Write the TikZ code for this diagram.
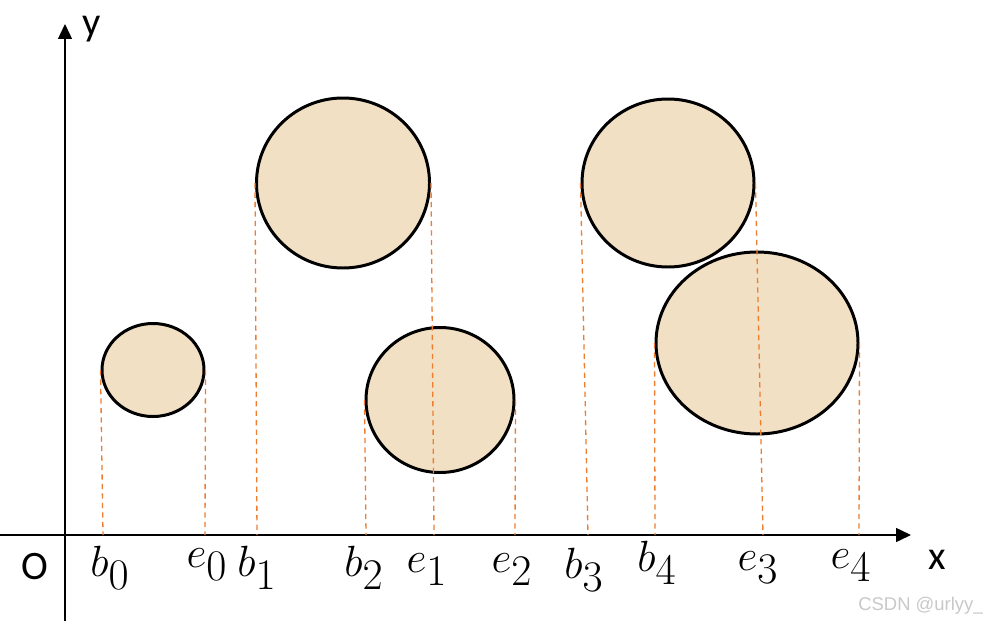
\documentclass[tikz,border=0pt]{standalone}
\usepackage{fontspec}
\setsansfont{Carlito}
\newfontfamily\markfont{Liberation Sans}
\usepackage{tikz}
\usetikzlibrary{arrows.meta,shapes.geometric}
\definecolor{sand}{RGB}{242,224,196}
\definecolor{guideorange}{RGB}{237,125,49}
\definecolor{markgray}{RGB}{200,200,200}
\tikzset{
  axis/.style={line width=0.8pt,-{Triangle[length=0.3cm,width=0.28cm]}},
  blob/.style={ellipse,draw=black,fill=sand,line width=1.7pt,inner sep=0pt},
  guide/.style={guideorange,line width=0.75pt,dash pattern=on 3pt off 2.4pt},
  seg/.style={font=\fontsize{34}{38}\selectfont},
  axlab/.style={font=\sffamily\fontsize{23}{25}\selectfont}
}

\begin{document}
\begin{tikzpicture}[x=0.02cm,y=-0.02cm]
  \useasboundingbox (0,0) rectangle (983,622);
  % axes
  \coordinate (xstart) at (0,535);
  \coordinate (xend) at (911,535);
  \coordinate (ystart) at (65,621);
  \coordinate (yend) at (65,24);
  \draw[axis] (xstart) -- (xend);
  \draw[axis] (ystart) -- (yend);
  \node[axlab] (ylab) at (92,29) {y};
  \node[axlab] (xlab) at (937,560) {x};
  \node[axlab] (olab) at (35,567) {O};
  % circles
  \newcommand{\blobat}[5]{
    \node[blob,minimum width=#4*0.02cm,minimum height=#5*0.02cm]
      (#1) at (#2,#3) {};}
  \blobat{c0}{153}{370}{102}{93}
  \blobat{c1}{343}{183}{173}{170}
  \blobat{c2}{440}{400}{148}{145}
  \blobat{c3}{668}{183}{172}{168}
  \blobat{c4}{757}{343}{202}{182}
  % feet on the x axis
  \foreach \nm/\x in {b0/103,e0/205,b1/257,b2/366,e1/434,e2/515,b3/588,b4/655,e3/763,e4/859}
    \coordinate (\nm) at (\x,535);
  % guides
  \foreach \c/\l/\r in {c0/b0/e0,c1/b1/e1,c2/b2/e2,c3/b3/e3,c4/b4/e4}{
    \draw[guide] (\c.west) -- (\l);
    \draw[guide] (\c.east) -- (\r);}
  % labels
  \foreach \nm/\x/\y/\lab in {b0/110/568/b_0,e0/207/565/e_0,b1/257/568/b_1,
      b2/364/568/b_2,e1/427/570/e_1,e2/512/570/e_2,b3/584/570/b_3,
      b4/657/563/b_4,e3/758/568/e_3,e4/851/566/e_4}
    \node[seg] (lab\nm) at (\x,\y) {$\lab$};
  \node[markgray,font=\markfont\fontsize{10.5}{12}\selectfont] (mark) at (921,606) {CSDN @urlyy\_};
\end{tikzpicture}
\end{document}
